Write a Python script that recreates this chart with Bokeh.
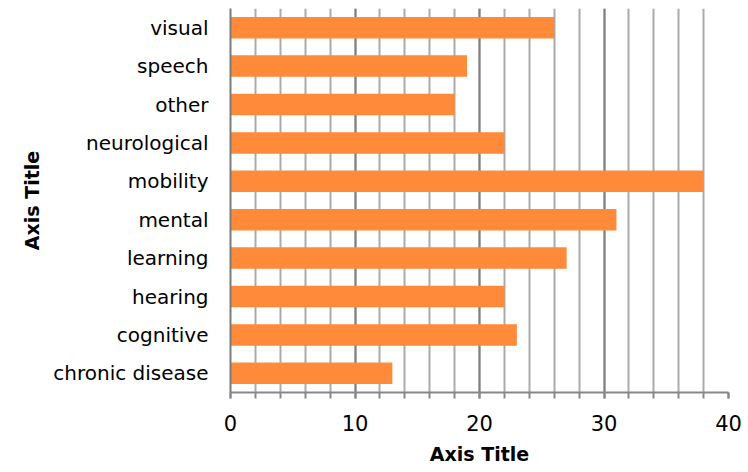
from bokeh.plotting import figure
from bokeh.models import Range1d, FactorRange, SingleIntervalTicker, Title
from bokeh.embed import file_html
from bokeh.resources import INLINE

categories = ["visual", "speech", "other", "neurological", "mobility",
              "mental", "learning", "hearing", "cognitive", "chronic disease"]
values = [26, 19, 18, 22, 38, 31, 27, 22, 23, 13]
x_title = "Axis Title"
y_title = "Axis Title"

FONT = "DejaVu Sans"

p = figure(width=746, height=472, output_backend="svg", toolbar_location=None,
           x_range=Range1d(0, 40), y_range=FactorRange(*list(reversed(categories))),
           min_border_left=230, min_border_right=18, min_border_top=8, min_border_bottom=80)
p.outline_line_color = None
p.background_fill_color = "white"

p.hbar(y=categories, right=values, left=0, height=0.56, fill_color="#FF8A3A", line_color=None)

# x axis
p.xaxis.ticker = SingleIntervalTicker(interval=10, num_minor_ticks=5)
p.xaxis.major_label_text_font = FONT
p.xaxis.major_label_text_font_size = "21px"
p.xaxis.major_label_text_color = "black"
p.xaxis.major_label_standoff = 16
p.xaxis.axis_line_color = "#888888"
p.xaxis.axis_line_width = 2
p.xaxis.major_tick_line_color = "#888888"
p.xaxis.major_tick_line_width = 2
p.xaxis.minor_tick_line_color = "#888888"
p.xaxis.minor_tick_line_width = 2
p.xaxis.major_tick_out = 6
p.xaxis.major_tick_in = 0
p.xaxis.minor_tick_out = 6
p.xaxis.minor_tick_in = 0

# x axis title as a title panel below the axis
xt = Title(text=x_title, align="center", text_font=FONT, text_font_style="bold",
           text_font_size="19px", text_color="black", standoff=14)
p.add_layout(xt, "below")

# y axis
p.yaxis.axis_label = y_title
p.yaxis.axis_label_text_font = FONT
p.yaxis.axis_label_text_font_style = "bold"
p.yaxis.axis_label_text_font_size = "19px"
p.yaxis.axis_label_text_color = "black"
p.yaxis.axis_label_standoff = 7
p.yaxis.major_label_text_font = FONT
p.yaxis.major_label_text_font_size = "20px"
p.yaxis.major_label_text_color = "black"
p.yaxis.major_label_standoff = 16
p.yaxis.axis_line_color = "#7a7a7a"
p.yaxis.axis_line_width = 2
p.yaxis.major_tick_line_color = None
p.yaxis.minor_tick_line_color = None

# grids
p.ygrid.grid_line_color = None
p.xgrid.grid_line_color = "#808080"
p.xgrid.grid_line_width = 2
p.xgrid.minor_grid_line_color = "#AAAAAA"
p.xgrid.minor_grid_line_width = 2

open("out.html", "w").write(file_html(p, INLINE))
